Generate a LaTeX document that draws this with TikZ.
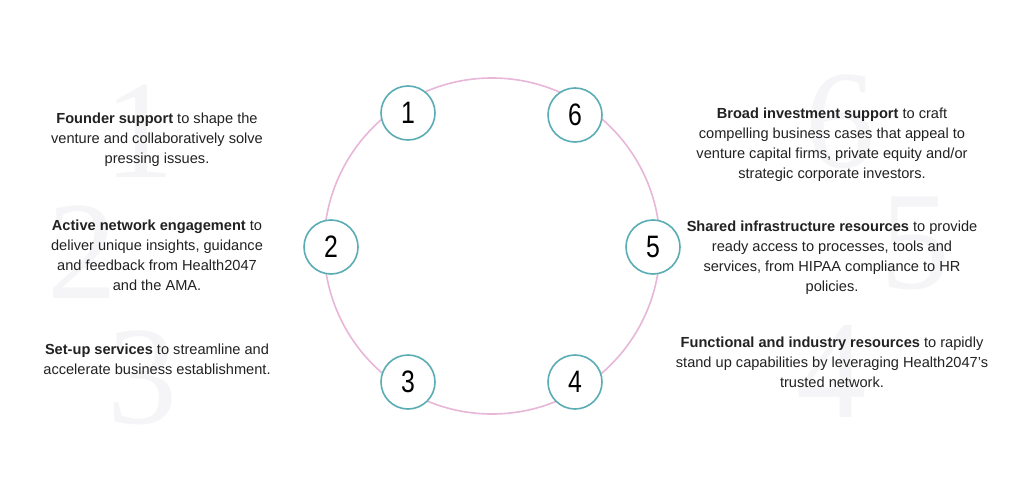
\documentclass[tikz,border=0pt]{standalone}
\usepackage{fontspec}
\setmainfont{Liberation Sans}
\newfontfamily\numfont[FakeStretch=0.8]{Liberation Sans}
\newfontfamily\wmfont{Liberation Serif}
\definecolor{ringpink}{HTML}{E8B6D8}
\definecolor{tealc}{HTML}{5AADB5}
\definecolor{txt}{HTML}{222222}
\definecolor{wmgray}{HTML}{F5F5F7}
\begin{document}
\begin{tikzpicture}[x=1pt,y=-1pt,
  wm/.style={text=wmgray,font=\wmfont\fontsize{140}{140}\selectfont,inner sep=0pt},
  desc/.style={text=txt,align=center,font=\fontsize{14.6}{20}\selectfont,inner sep=0pt},
  numc/.style={circle,draw=tealc,line width=1.6pt,fill=white,minimum size=54pt,inner sep=0pt,
    font=\numfont\fontsize{31}{31}\selectfont,text=black},
  ringc/.style={circle,draw=ringpink,line width=1.6pt,minimum size=336pt,inner sep=0pt}]
\fill[white] (0,0) rectangle (1024,492);
\useasboundingbox (0,0) rectangle (1024,492);
% watermark numbers
\node[wm] (w1) at (139,131) {1};
\node[wm] (w2) at (82,252) {2};
\node[wm] (w3) at (142,378) {3};
\node[wm] (w6) at (840,122) {6};
\node[wm] (w5) at (915,243) {5};
\node[wm] (w4) at (831,371) {4};
% ring
\node[ringc] (ring) at (492,246) {};
% numbered circles
\node[numc] (c1) at (408,113) {1};
\node[numc] (c6) at (575,115) {6};
\node[numc] (c2) at (331,247) {2};
\node[numc] (c5) at (653,247) {5};
\node[numc] (c3) at (408,382) {3};
\node[numc] (c4) at (575,382) {4};
% descriptions
\node[desc] (t1) at (157,140) {\textbf{Founder support} to shape the\\venture and collaboratively solve\\pressing issues.};
\node[desc] (t2) at (157,255) {\textbf{Active network engagement} to\\deliver unique insights, guidance\\and feedback from Health2047\\and the AMA.};
\node[desc] (t3) at (157,359) {\textbf{Set-up services} to streamline and\\accelerate business establishment.};
\node[desc] (t6) at (832,145) {\textbf{Broad investment support} to craft\\compelling business cases that appeal to\\venture capital firms, private equity and/or\\strategic corporate investors.};
\node[desc] (t5) at (832,258) {\textbf{Shared infrastructure resources} to provide\\ready access to processes, tools and\\services, from HIPAA compliance to HR\\policies.};
\node[desc] (t4) at (832,362) {\textbf{Functional and industry resources} to rapidly\\stand up capabilities by leveraging Health2047’s\\trusted network.};
\end{tikzpicture}
\end{document}
